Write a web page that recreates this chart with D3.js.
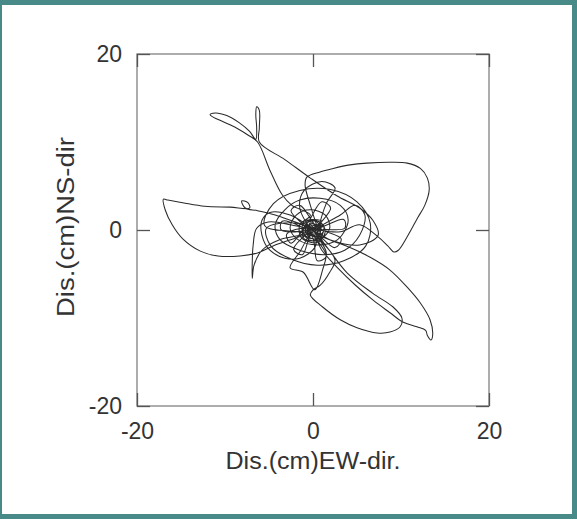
<!DOCTYPE html>
<html lang="en">
<head>
<meta charset="UTF-8">
<title>Displacement orbit</title>
<script src="https://d3js.org/d3.v7.min.js"></script>
<style>
  body { margin: 0; background: #488a88; }
  svg { display: block; }
  text { font-family: "Liberation Sans", Arial, Helvetica, sans-serif; }
</style>
</head>
<body>
<svg id="chart" width="577" height="519"></svg>
<script>
// ticks and labels
const xTicks = [-20, 0, 20];
const yTicks = [-20, 0, 20];
const xLabel = "Dis.(cm)EW-dir.";
const yLabel = "Dis.(cm)NS-dir";

// displacement orbit (cm)
const ew = [
  0, 0.8, 0.6, -0.8, -0.6, 0.3, 1.4, 0.6, -1.3, -1.5, -0.3,
  -2.4, -3.5, -4.9, -6.3, -7.4, -8.7, -10.2, -11.3, -11.7, -11.1, -9.8, -8.4, -7.2, -6.5,
  -6.4, -6.5, -6.4, -6.1, -6.1, -6.1,
  -3.2, -0.3, 2.7, 5.3, 6.8, 7.4, 5.3, 1.9, 0.2,
  3.1, 4.8, 5.9, 5.3, 3.6, 1.4, -1.5, -3.75, -4.3, -3.2, -1.5, 0.8, 3.1, 4.0, 2.8, 0.6,
  -1.7, -2.6, -1.9, -0.3, 1.4, 1.9, 1.0, -0.3, -0.9, -0.1, 0.6, 0,
  2.0, 1.0, -0.5, -2.5, -3.0, -0.5, 2.5, 3.2, 0.5, -1.5, -2.5, -0.3, 1.5, 0.5, -0.2,
  -3.5, -3.6, 0.2, 3.5, 3.6, 0, -1.2, -2.2, 0.1, 1.0, -1.0, -1.0, 1.0, 0.4,
  -0.3, -0.9, -0.7, 0.8, 2.3, 4.2, 6.1, 8.8, 10.7, 12.2, 13.0, 13.2, 12.7, 11.9, 10.8,
  9.7, 9.2, 8.5, 7.3, 5.3, 3.1, 0.8,
  -2.0, -4.3, -6.3, -7.7, -8.1, -7.4, -7.2, -9.4, -12.3, -14.8, -16.5, -17.0, -16.8, -16.0,
  -14.8, -12.8, -10.8, -8.3, -6.3, -4.3, -2.0, -0.1,
  -2.6, -5.1, -6.4, -6.8, -6.9, -6.9, -6.7, -5.8, -3.8, -1.5, 0,
  1.4, 3.9, 6.8, 9.1, 10.1, 9.9, 8.75, 7.3, 5.0, 3.1, 1.1, -0.3, 0, 0.8, 1.9, 2.5, 0.8, 0,
  -1.5, -2.6, -1.1, 0.2, 1.1, 1.5, 0.3,
  1.9, 4.2, 6.5, 8.75, 10.7, 12.2, 13.3, 13.6, 13.4, 13.0, 12.8, 11.8, 10.2, 8.75, 6.8,
  4.8, 2.8, 1.0, 0,
  -5.5, -4.5, -1.5, 2.0, 5.0, 6.5, 6.0, 3.5, 0.5, -2.5, -4.8, -5.3, -2.0, 0,
  -2.6, -4.9, -5.8, -5.8, -4.9, -3.2, -1.5, 0.2, 0.5,
  1.5, 2.5, 1.0, -1.0, -1.5, 0,
  0.4, -0.5, 0.2, 0.7, -0.3, -0.6, 0.5, 0, 0,
  1.2, 0.9, -0.2, -1.1, -0.7, 0.6, 1.3, 0.3, -0.9, -1.2, -0.1, 0.9, 0.5, -0.5, -0.3, 0.2
];
const ns = [
  0, 0.7, -0.7, -0.3, 0.9, 1.1, 0, -1.4, -0.9, 0.6, 1.7,
  2.8, 4.0, 6.8, 10.0, 10.8, 11.6, 12.3, 12.8, 13.1, 13.3, 13.0, 12.2, 11.2, 10.3,
  11.6, 13.1, 14.0, 13.6, 11.6, 10.0,
  8.0, 5.9, 3.9, 2.5, 1.1, -0.6, -1.7, -1.1, -0.2,
  1.7, 2.8, 1.7, -0.6, -2.3, -2.8, -2.3, -1.1, 0.6, 2.3, 3.4, 3.6, 2.8, 1.1, -1.1, -1.7,
  -1.1, 0.2, 1.7, 2.3, 1.7, 0.2, -0.9, -0.9, 0, 0.7, 0.2, -0.2,
  2.5, 3.2, 1.0, -1.5, -0.5, 0.2, -2.0, -1.0, 0.3, 2.8, 2.2, -0.2, -3.0, -3.5, -0.5,
  1.0, 0, 0.1, 1.2, 0.2, -0.2, -2.8, -2.2, 0.3, 1.0, 1.0, -1.0, -1.0, 0.6,
  2.8, 5.1, 6.0, 6.6, 7.0, 7.4, 7.6, 7.7, 7.6, 7.0, 5.9, 4.5, 2.8, 1.4, -0.6,
  -2.3, -2.5, -1.8, -0.7, 0.6, -0.2, 0,
  0.9, 1.7, 2.2, 2.5, 3.3, 3.1, 2.5, 2.6, 2.7, 3.1, 3.4, 3.5, 2.3, 0.6,
  -1.0, -2.4, -2.95, -2.95, -2.6, -1.7, -0.9, -0.1,
  0.6, 0.9, 0.2, -1.7, -3.6, -5.5, -4.0, -2.3, -1.1, -0.6, 0,
  -1.7, -4.9, -7.2, -8.75, -10.0, -11.0, -11.6, -11.7, -11.1, -10.2, -8.75, -7.4, -6.8, -6.3, -4.8, -3.4, -1.1, -0.2,
  -2.5, -4.3, -4.8, -6.8, -4.5, -2.5, -0.3,
  -1.1, -2.0, -3.1, -4.55, -6.5, -8.3, -10.2, -11.9, -12.5, -12.0, -11.4, -11.0, -10.45, -9.4, -7.95,
  -6.25, -4.3, -2.3, -0.6,
  0.5, 3.0, 4.5, 4.6, 3.2, 0.8, -1.8, -3.5, -4.0, -3.3, -1.8, 0.2, 0.8, 0,
  1.7, 2.0, 1.1, -0.6, -2.3, -3.2, -3.2, -2.0, -0.3,
  3.0, 4.8, 5.5, 4.5, 2.5, 0,
  0.5, 0.3, -0.6, 0.2, 0.8, -0.4, -0.3, 0.3, 0,
  0.4, -0.8, -1.2, -0.4, 0.8, 1.0, 0.2, -1.0, -0.6, 0.5, 1.2, 0.3, -0.7, -0.2, 0.6, 0
];

const svg = d3.select("#chart");
const width = +svg.attr("width");
const height = +svg.attr("height");

// white panel inside the teal frame
svg.append("rect")
  .attr("x", 2).attr("y", 5)
  .attr("width", width - 7).attr("height", height - 10)
  .attr("fill", "#fff");

const plotLeft = 137, plotRight = 489, plotTop = 54, plotBottom = 406;
const x = d3.scaleLinear().domain([-20, 20]).range([plotLeft, plotRight]);
const y = d3.scaleLinear().domain([-20, 20]).range([plotBottom, plotTop]);

// plot frame
svg.append("rect")
  .attr("x", plotLeft).attr("y", plotTop)
  .attr("width", plotRight - plotLeft).attr("height", plotBottom - plotTop)
  .attr("fill", "none")
  .attr("stroke", "#8a8a8a")
  .attr("stroke-width", 1.4);

// axes, ticks pointing inward on all four sides
const tickLen = 13;
const fmt = d => String(d);   // plain hyphen minus like the original
const styleAxis = g => {
  g.select(".domain").remove();
  g.selectAll(".tick line").attr("stroke", "#555").attr("stroke-width", 1.3);
  g.selectAll(".tick text")
    .attr("fill", "#333")
    .style("font-size", "23px");
};

svg.append("g")
  .attr("transform", `translate(0,${plotBottom})`)
  .call(d3.axisBottom(x).tickValues(xTicks).tickSize(-tickLen).tickPadding(17).tickFormat(fmt))
  .call(styleAxis);

svg.append("g")
  .attr("transform", `translate(${plotLeft},0)`)
  .call(d3.axisLeft(y).tickValues(yTicks).tickSize(-tickLen).tickPadding(15).tickFormat(fmt))
  .call(styleAxis);

svg.append("g")
  .attr("transform", `translate(0,${plotTop})`)
  .call(d3.axisTop(x).tickValues(xTicks).tickSize(-tickLen).tickFormat(""))
  .call(styleAxis);

svg.append("g")
  .attr("transform", `translate(${plotRight},0)`)
  .call(d3.axisRight(y).tickValues(yTicks).tickSize(-tickLen).tickFormat(""))
  .call(styleAxis);

// axis titles
svg.append("text")
  .attr("x", (plotLeft + plotRight) / 2)
  .attr("y", 469)
  .attr("text-anchor", "middle")
  .attr("fill", "#333")
  .attr("textLength", 175)
  .attr("lengthAdjust", "spacingAndGlyphs")
  .style("font-size", "23px")
  .text(xLabel);

svg.append("text")
  .attr("transform", "translate(74,227) rotate(-90)")
  .attr("text-anchor", "middle")
  .attr("fill", "#333")
  .attr("textLength", 180)
  .attr("lengthAdjust", "spacingAndGlyphs")
  .style("font-size", "23px")
  .text(yLabel);

// the orbit
const orbit = d3.zip(ew, ns);
const line = d3.line()
  .x(d => x(d[0]))
  .y(d => y(d[1]))
  .curve(d3.curveCatmullRom.alpha(0.5));

svg.append("path")
  .datum(orbit)
  .attr("d", line)
  .attr("fill", "none")
  .attr("stroke", "#2a2a2a")
  .attr("stroke-width", 1.05)
  .attr("stroke-linejoin", "round");
</script>
</body>
</html>
